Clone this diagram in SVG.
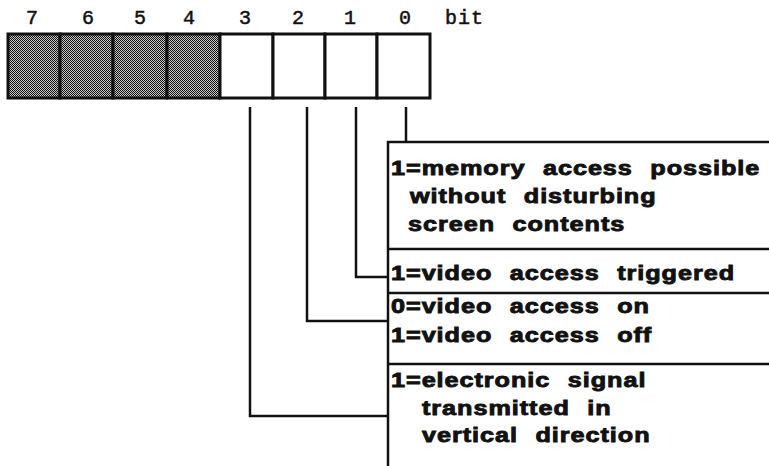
<svg xmlns="http://www.w3.org/2000/svg" width="769" height="466" viewBox="0 0 769 466">
<defs>
<pattern id="dots" width="2" height="2" patternUnits="userSpaceOnUse">
<rect width="2" height="2" fill="#111111"/>
<rect x="1" y="0" width="1" height="1" fill="#c8c8c8"/>
<rect x="0" y="1" width="1" height="1" fill="#c8c8c8"/>
</pattern>
</defs>
<style>
.bitno{font-family:"Liberation Mono","Courier New",monospace;font-size:20px;fill:#111;stroke:#111;stroke-width:0.5;text-anchor:middle}
.bitlbl{font-family:"Liberation Mono","Courier New",monospace;font-size:20px;fill:#111;stroke:#111;stroke-width:0.5;letter-spacing:1px}
.cell{stroke:#111;stroke-width:3}
.conn{fill:none;stroke:#111;stroke-width:2.5}
.box{fill:none;stroke:#111;stroke-width:2.5}
.desc{font-family:"Liberation Sans",Arial,sans-serif;font-weight:bold;font-size:21px;fill:#111;stroke:#111;stroke-width:0.9;letter-spacing:0.8px;word-spacing:8px}
</style>
<rect width="769" height="466" fill="#ffffff"/>
<g id="register">
<text class="bitno" x="32" y="24">7</text>
<text class="bitno" x="88" y="24">6</text>
<text class="bitno" x="140" y="24">5</text>
<text class="bitno" x="189" y="24">4</text>
<text class="bitno" x="245" y="24">3</text>
<text class="bitno" x="298" y="24">2</text>
<text class="bitno" x="350" y="24">1</text>
<text class="bitno" x="405" y="24">0</text>
<text class="bitlbl" x="445" y="24">bit</text>
<rect class="cell" x="8" y="34" width="52" height="64" fill="url(#dots)"/>
<rect class="cell" x="60" y="34" width="53" height="64" fill="url(#dots)"/>
<rect class="cell" x="113" y="34" width="54" height="64" fill="url(#dots)"/>
<rect class="cell" x="167" y="34" width="53" height="64" fill="url(#dots)"/>
<rect class="cell" x="220" y="34" width="53" height="64" fill="#fff"/>
<rect class="cell" x="273" y="34" width="52" height="64" fill="#fff"/>
<rect class="cell" x="325" y="34" width="52" height="64" fill="#fff"/>
<rect class="cell" x="377" y="34" width="53" height="64" fill="#fff"/>
</g>
<g id="connectors">
<polyline class="conn" points="406,107 406,142"/>
<polyline class="conn" points="356,107 356,277 388,277"/>
<polyline class="conn" points="307,107 307,321 388,321"/>
<polyline class="conn" points="250,107 250,416 388,416"/>
</g>
<g id="box-frame">
<polyline class="box" points="769,142 388,142 388,466"/>
<line class="box" x1="388" y1="249" x2="769" y2="249"/>
<line class="box" x1="388" y1="293" x2="769" y2="293"/>
<line class="box" x1="388" y1="364" x2="769" y2="364"/>
</g>
<g id="bit0">
<text class="desc" transform="translate(391,175) scale(1.2,1)">1=memory access possible</text>
<text class="desc" transform="translate(410,203) scale(1.2,1)">without disturbing</text>
<text class="desc" transform="translate(408,231) scale(1.2,1)">screen contents</text>
</g>
<g id="bit1">
<text class="desc" transform="translate(391,280) scale(1.2,1)">1=video access triggered</text>
</g>
<g id="bit2">
<text class="desc" transform="translate(391,313) scale(1.2,1)">0=video access on</text>
<text class="desc" transform="translate(391,342) scale(1.2,1)">1=video access off</text>
</g>
<g id="bit3">
<text class="desc" transform="translate(391,387) scale(1.2,1)">1=electronic signal</text>
<text class="desc" transform="translate(422,415) scale(1.2,1)">transmitted in</text>
<text class="desc" transform="translate(422,442) scale(1.2,1)">vertical direction</text>
</g>
</svg>
